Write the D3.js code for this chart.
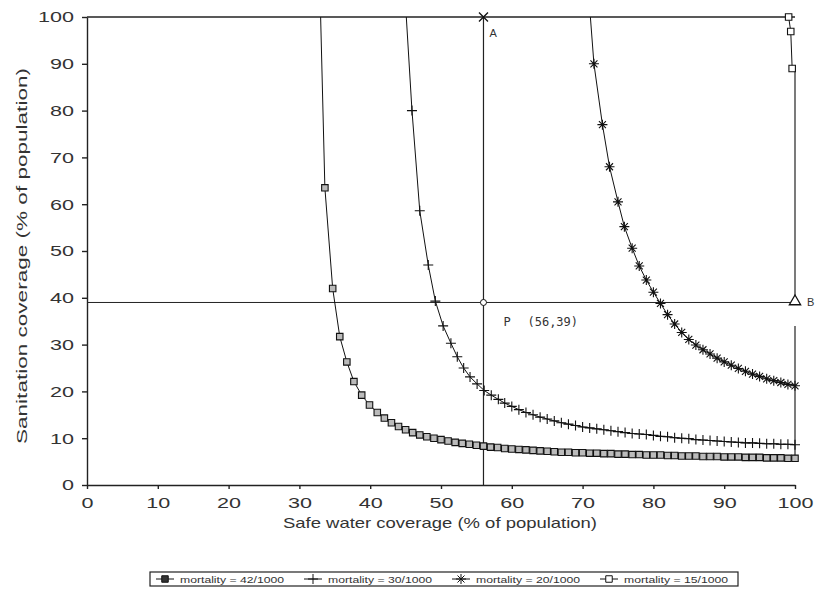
<!DOCTYPE html>
<meta charset="utf-8">
<style>
    body { margin: 0; background: #fff; }
    svg text { font-family: "Liberation Sans", Arial, sans-serif; fill: #333; }
    .axis path, .axis line { stroke: #222; stroke-width: 1.4; }
    .curve { fill: none; stroke: #111; stroke-width: 1; }
    .ref { fill: none; stroke: #222; }
</style>
<svg width="817" height="600"></svg>

<script src="https://d3js.org/d3.v7.min.js"></script>
<script>
    var xTicks = [0, 10, 20, 30, 40, 50, 60, 70, 80, 90, 100];
    var yTicks = [0, 10, 20, 30, 40, 50, 60, 70, 80, 90, 100];

    // mortality 42/1000 (first point is where the curve leaves the 100% line)
    var m42X = [33.0, 33.6, 34.7, 35.7, 36.7, 37.7, 38.8, 39.9, 41, 42, 43, 44, 45, 46, 47, 48, 49, 50,
        51, 52, 53, 54, 55, 56, 57, 58, 59, 60, 61, 62, 63, 64, 65, 66, 67, 68, 69, 70,
        71, 72, 73, 74, 75, 76, 77, 78, 79, 80, 81, 82, 83, 84, 85, 86, 87, 88, 89, 90,
        91, 92, 93, 94, 95, 96, 97, 98, 99, 100];
    var m42Y = [100, 63.5, 42.0, 31.7, 26.3, 22.1, 19.2, 17.1, 15.5, 14.3, 13.3, 12.5, 11.8, 11.2, 10.7, 10.3, 10.0, 9.7,
        9.4, 9.1, 8.9, 8.7, 8.5, 8.3, 8.1, 8.0, 7.8, 7.7, 7.6, 7.5, 7.4, 7.3, 7.2, 7.1, 7.0, 7.0, 6.9, 6.9,
        6.8, 6.8, 6.7, 6.7, 6.6, 6.6, 6.5, 6.5, 6.4, 6.4, 6.4, 6.3, 6.3, 6.2, 6.2, 6.2, 6.1, 6.1, 6.1, 6.0,
        6.0, 6.0, 5.9, 5.9, 5.9, 5.8, 5.8, 5.8, 5.7, 5.7];

    // mortality 30/1000
    var m30X = [45.1, 45.9, 47.0, 48.2, 49.2, 50.3, 51.4, 52.3, 53.2, 54.1, 55.1, 56.1, 57.1, 58.1,
        59, 60, 61, 62, 63, 64, 65, 66, 67, 68, 69, 70, 71, 72, 73, 74, 75, 76, 77, 78, 79, 80,
        81, 82, 83, 84, 85, 86, 87, 88, 89, 90, 91, 92, 93, 94, 95, 96, 97, 98, 99, 100];
    var m30Y = [100, 80.0, 58.6, 47.0, 39.3, 34.0, 30.3, 27.4, 25.0, 23.1, 21.6, 20.2, 19.2, 18.3,
        17.5, 16.8, 16.1, 15.5, 15.0, 14.5, 14.1, 13.7, 13.3, 13.0, 12.7, 12.4, 12.2, 12.0, 11.8, 11.6, 11.4, 11.2, 11.0, 10.9, 10.8, 10.6,
        10.4, 10.3, 10.1, 10.0, 9.9, 9.7, 9.6, 9.5, 9.4, 9.3, 9.2, 9.1, 9.0, 9.0, 8.9, 8.8, 8.8, 8.7, 8.7, 8.6];

    // mortality 20/1000
    var m20X = [71.1, 71.6, 72.8, 73.8, 75.0, 75.9, 77.0, 78.0, 79.0, 80.0, 81.0,
        82, 83, 84, 85, 86, 87, 88, 89, 90, 91, 92, 93, 94, 95, 96, 97, 98, 99, 100];
    var m20Y = [100, 90.0, 77.0, 68.0, 60.5, 55.2, 50.6, 46.8, 43.8, 41.2, 38.8,
        36.4, 34.4, 32.6, 31.1, 29.9, 28.9, 28.0, 27.1, 26.3, 25.6, 24.9, 24.3, 23.7, 23.2, 22.7, 22.3, 21.9, 21.5, 21.2];

    // mortality 15/1000
    var m15X = [99.1, 99.4, 99.6];
    var m15Y = [100, 96.9, 89.0];

    var legendLabels = ["mortality = 42/1000", "mortality = 30/1000", "mortality = 20/1000", "mortality = 15/1000"];
    var pointP = [56, 39];

    var svg = d3.select("svg");
    var x = d3.scaleLinear().domain([0, 100]).range([87, 795]);
    var y = d3.scaleLinear().domain([0, 100]).range([485, 17]);

    var squarePath = d3.symbol().type(d3.symbolSquare).size(42)();
    var plusPath = "M-5,0H5M0,-5V5";
    var starPath = "M-5,0H5M0,-5V5M-3.5,-3.5L3.5,3.5M-3.5,3.5L3.5,-3.5";

    var series = [
        {xs: m42X, ys: m42Y, shape: squarePath, fill: "#bbb", skipFirst: true},
        {xs: m30X, ys: m30Y, shape: plusPath, fill: "none", skipFirst: true},
        {xs: m20X, ys: m20Y, shape: starPath, fill: "none", skipFirst: true},
        {xs: m15X, ys: m15Y, shape: squarePath, fill: "#fff", skipFirst: false}
    ];

    // reference lines: 100% line, P construction lines, right edge
    svg.append("line").attr("class", "ref").attr("stroke-width", 1.5)
        .attr("x1", x(0)).attr("x2", x(100)).attr("y1", y(100)).attr("y2", y(100));
    svg.append("line").attr("class", "ref").attr("stroke-width", 1)
        .attr("x1", x(0)).attr("x2", x(100)).attr("y1", y(pointP[1])).attr("y2", y(pointP[1]));
    svg.append("line").attr("class", "ref").attr("stroke-width", 1.2)
        .attr("x1", x(pointP[0])).attr("x2", x(pointP[0])).attr("y1", y(100)).attr("y2", y(0));
    svg.append("line").attr("class", "ref").attr("stroke-width", 1.2)
        .attr("x1", x(100)).attr("x2", x(100)).attr("y1", y(89)).attr("y2", y(40));
    svg.append("line").attr("class", "ref").attr("stroke-width", 1.2)
        .attr("x1", x(100)).attr("x2", x(100)).attr("y1", y(34)).attr("y2", y(5.7));

    var line = d3.line().x(function(d) { return x(d[0]); }).y(function(d) { return y(d[1]); });

    series.forEach(function(s) {
        var pts = s.xs.map(function(v, i) { return [v, s.ys[i]]; });
        svg.append("path").attr("class", "curve").attr("d", line(pts));
        var marked = s.skipFirst ? pts.slice(1) : pts;
        svg.selectAll(null).data(marked).enter().append("path")
            .attr("d", s.shape)
            .attr("transform", function(d) { return "translate(" + x(d[0]) + "," + y(d[1]) + ")"; })
            .attr("fill", s.fill)
            .attr("stroke", "#111")
            .attr("stroke-width", 1.1);
    });

    // axes
    var xAxis = svg.append("g").attr("class", "axis")
        .attr("transform", "translate(0," + y(0) + ")")
        .call(d3.axisBottom(x).tickValues(xTicks).tickSize(4).tickSizeOuter(0).tickPadding(8));
    xAxis.selectAll("text").attr("font-size", 15)
        .attr("textLength", function(d) { return String(d).length * 12; })
        .attr("lengthAdjust", "spacingAndGlyphs");

    var yAxis = svg.append("g").attr("class", "axis")
        .attr("transform", "translate(" + x(0) + ",0)")
        .call(d3.axisLeft(y).tickValues(yTicks).tickSize(5).tickSizeOuter(0).tickPadding(8));
    yAxis.selectAll("text").attr("font-size", 15)
        .attr("textLength", function(d) { return String(d).length * 12; })
        .attr("lengthAdjust", "spacingAndGlyphs");
    svg.selectAll(".axis text").style("font-family", "'Liberation Sans', Arial, sans-serif").attr("fill", "#333");

    svg.append("text").attr("x", 440).attr("y", 528).attr("text-anchor", "middle")
        .attr("font-size", 15).attr("textLength", 314).attr("lengthAdjust", "spacingAndGlyphs")
        .text("Safe water coverage (% of population)");
    svg.append("text").attr("transform", "translate(27,256) rotate(-90)").attr("text-anchor", "middle")
        .attr("font-size", 15).attr("textLength", 376).attr("lengthAdjust", "spacingAndGlyphs")
        .text("Sanitation coverage (% of population)");

    // point markers A, P, B
    svg.append("path").attr("d", "M-4.5,-4.5L4.5,4.5M-4.5,4.5L4.5,-4.5")
        .attr("transform", "translate(" + x(pointP[0]) + "," + y(100) + ")")
        .attr("stroke", "#111").attr("stroke-width", 1.3);
    svg.append("circle").attr("cx", x(pointP[0])).attr("cy", y(pointP[1])).attr("r", 3)
        .attr("fill", "#fff").attr("stroke", "#111");
    svg.append("path").attr("d", d3.symbol().type(d3.symbolTriangle).size(55)())
        .attr("transform", "translate(" + x(100) + "," + (y(pointP[1]) - 1) + ")")
        .attr("fill", "#fff").attr("stroke", "#111").attr("stroke-width", 1.3);

    svg.append("text").attr("x", x(pointP[0]) + 6).attr("y", y(100) + 20).attr("font-size", 11).text("A");
    svg.append("text").attr("x", x(100) + 12).attr("y", y(pointP[1]) + 4).attr("font-size", 11).text("B");
    svg.append("text").attr("x", x(pointP[0]) + 20).attr("y", y(pointP[1]) + 24).attr("font-size", 12)
        .style("font-family", "'DejaVu Sans Mono', monospace").text("P");
    svg.append("text").attr("x", x(pointP[0]) + 44).attr("y", y(pointP[1]) + 24).attr("font-size", 12)
        .style("font-family", "'DejaVu Sans Mono', monospace")
        .text("(" + pointP[0] + "," + pointP[1] + ")");

    // legend
    var lg = svg.append("g").attr("transform", "translate(150,572)");
    lg.append("rect").attr("width", 588).attr("height", 14)
        .attr("fill", "#fff").attr("stroke", "#222").attr("stroke-width", 1.2);
    var item = lg.selectAll(".item").data(legendLabels).enter().append("g")
        .attr("transform", function(d, i) { return "translate(" + (i * 148) + ",0)"; });
    item.append("line").attr("x1", 6).attr("x2", 24).attr("y1", 7).attr("y2", 7)
        .attr("stroke", "#111");
    item.append("path")
        .attr("d", function(d, i) { return series[i].shape; })
        .attr("transform", "translate(15,7)")
        .attr("fill", function(d, i) { return i === 0 ? "#333" : series[i].fill; })
        .attr("stroke", "#111");
    item.append("text").attr("x", 30).attr("y", 11).attr("font-size", 9.5)
        .attr("textLength", 104).attr("lengthAdjust", "spacingAndGlyphs")
        .text(function(d) { return d; });
</script>
